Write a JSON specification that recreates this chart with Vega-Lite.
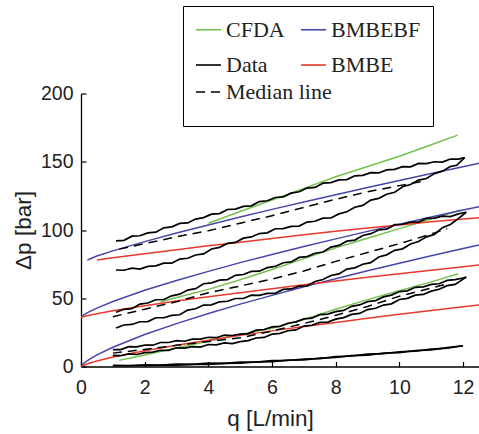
{
  "$schema": "https://vega.github.io/schema/vega-lite/v6.json",
  "width": 398,
  "height": 273,
  "autosize": "none",
  "padding": {"left": 81, "top": 93.5, "right": 0, "bottom": 67.5},
  "background": "white",
  "config": {
    "view": {"stroke": null},
    "axis": {"grid": false, "domainColor": "#000", "domainWidth": 1.3, "tickColor": "#000", "tickWidth": 1.2, "tickSize": -5, "labelFont": "Liberation Sans", "labelFontSize": 19.5, "labelColor": "#222", "titleFont": "Liberation Sans", "titleFontSize": 22.5, "titleFontWeight": "normal", "titleColor": "#222", "labelFlush": false, "labelOverlap": false}
  },
  "datasets": {
    "models": [
      {"s":"CFDA","g":"A","q":4,"p":105},{"s":"CFDA","g":"A","q":5,"p":113.5},{"s":"CFDA","g":"A","q":6,"p":122},{"s":"CFDA","g":"A","q":7,"p":130.5},{"s":"CFDA","g":"A","q":8,"p":139},{"s":"CFDA","g":"A","q":9,"p":146.5},{"s":"CFDA","g":"A","q":10,"p":154},{"s":"CFDA","g":"A","q":11,"p":162.5},{"s":"CFDA","g":"A","q":11.83,"p":169.5},
      {"s":"CFDA","g":"B","q":2.5,"p":47.5},{"s":"CFDA","g":"B","q":3,"p":50.5},{"s":"CFDA","g":"B","q":4,"p":56.5},{"s":"CFDA","g":"B","q":5,"p":63.5},{"s":"CFDA","g":"B","q":6,"p":71},{"s":"CFDA","g":"B","q":7,"p":79},{"s":"CFDA","g":"B","q":8,"p":87},{"s":"CFDA","g":"B","q":9,"p":94},{"s":"CFDA","g":"B","q":10,"p":101},{"s":"CFDA","g":"B","q":11,"p":108},{"s":"CFDA","g":"B","q":11.93,"p":114.6},
      {"s":"CFDA","g":"C","q":1.2,"p":4.5},{"s":"CFDA","g":"C","q":2,"p":8.5},{"s":"CFDA","g":"C","q":3,"p":13.5},{"s":"CFDA","g":"C","q":4,"p":18.5},{"s":"CFDA","g":"C","q":5,"p":23.5},{"s":"CFDA","g":"C","q":6,"p":28},{"s":"CFDA","g":"C","q":7,"p":34.5},{"s":"CFDA","g":"C","q":8,"p":42},{"s":"CFDA","g":"C","q":9,"p":49},{"s":"CFDA","g":"C","q":10,"p":55.5},{"s":"CFDA","g":"C","q":11,"p":62},{"s":"CFDA","g":"C","q":11.85,"p":68},
      {"s":"BMBEBF","g":"A","q":0.2,"p":78},{"s":"BMBEBF","g":"A","q":0.5,"p":80.9},{"s":"BMBEBF","g":"A","q":1,"p":84.7},{"s":"BMBEBF","g":"A","q":2,"p":91.5},{"s":"BMBEBF","g":"A","q":3,"p":97.8},{"s":"BMBEBF","g":"A","q":4,"p":103.7},{"s":"BMBEBF","g":"A","q":5,"p":109.5},{"s":"BMBEBF","g":"A","q":6,"p":115.1},{"s":"BMBEBF","g":"A","q":7,"p":120.5},{"s":"BMBEBF","g":"A","q":8,"p":125.9},{"s":"BMBEBF","g":"A","q":9,"p":131.1},{"s":"BMBEBF","g":"A","q":10,"p":136.3},{"s":"BMBEBF","g":"A","q":11,"p":141.4},{"s":"BMBEBF","g":"A","q":12,"p":146.4},{"s":"BMBEBF","g":"A","q":12.5,"p":148.9},
      {"s":"BMBEBF","g":"B","q":0,"p":36},{"s":"BMBEBF","g":"B","q":0.1,"p":38},{"s":"BMBEBF","g":"B","q":0.25,"p":40},{"s":"BMBEBF","g":"B","q":0.5,"p":42.8},{"s":"BMBEBF","g":"B","q":1,"p":47.6},{"s":"BMBEBF","g":"B","q":2,"p":55.8},{"s":"BMBEBF","g":"B","q":3,"p":63},{"s":"BMBEBF","g":"B","q":4,"p":69.7},{"s":"BMBEBF","g":"B","q":5,"p":76.1},{"s":"BMBEBF","g":"B","q":6,"p":82.1},{"s":"BMBEBF","g":"B","q":7,"p":87.9},{"s":"BMBEBF","g":"B","q":8,"p":93.5},{"s":"BMBEBF","g":"B","q":9,"p":99},{"s":"BMBEBF","g":"B","q":10,"p":104.3},{"s":"BMBEBF","g":"B","q":11,"p":109.5},{"s":"BMBEBF","g":"B","q":12,"p":114.6},{"s":"BMBEBF","g":"B","q":12.5,"p":117.1},
      {"s":"BMBEBF","g":"C","q":0,"p":0},{"s":"BMBEBF","g":"C","q":0.1,"p":2.6},{"s":"BMBEBF","g":"C","q":0.25,"p":5.1},{"s":"BMBEBF","g":"C","q":0.5,"p":8.5},{"s":"BMBEBF","g":"C","q":1,"p":14.1},{"s":"BMBEBF","g":"C","q":2,"p":23.4},{"s":"BMBEBF","g":"C","q":3,"p":31.4},{"s":"BMBEBF","g":"C","q":4,"p":38.8},{"s":"BMBEBF","g":"C","q":5,"p":45.7},{"s":"BMBEBF","g":"C","q":6,"p":52.1},{"s":"BMBEBF","g":"C","q":7,"p":58.4},{"s":"BMBEBF","g":"C","q":8,"p":64.3},{"s":"BMBEBF","g":"C","q":9,"p":70.1},{"s":"BMBEBF","g":"C","q":10,"p":75.7},{"s":"BMBEBF","g":"C","q":11,"p":81.2},{"s":"BMBEBF","g":"C","q":12,"p":86.5},{"s":"BMBEBF","g":"C","q":12.5,"p":89.1},
      {"s":"BMBE","g":"A","q":0.5,"p":78},{"s":"BMBE","g":"A","q":1,"p":79.6},{"s":"BMBE","g":"A","q":2,"p":82.6},{"s":"BMBE","g":"A","q":3,"p":85.5},{"s":"BMBE","g":"A","q":4,"p":88.4},{"s":"BMBE","g":"A","q":5,"p":91.1},{"s":"BMBE","g":"A","q":6,"p":93.8},{"s":"BMBE","g":"A","q":7,"p":96.5},{"s":"BMBE","g":"A","q":8,"p":99},{"s":"BMBE","g":"A","q":9,"p":101.4},{"s":"BMBE","g":"A","q":10,"p":103.7},{"s":"BMBE","g":"A","q":11,"p":106},{"s":"BMBE","g":"A","q":12,"p":108},{"s":"BMBE","g":"A","q":12.5,"p":109},
      {"s":"BMBE","g":"B","q":0,"p":36},{"s":"BMBE","g":"B","q":0.25,"p":37.6},{"s":"BMBE","g":"B","q":0.5,"p":38.7},{"s":"BMBE","g":"B","q":1,"p":40.8},{"s":"BMBE","g":"B","q":2,"p":44.5},{"s":"BMBE","g":"B","q":3,"p":47.9},{"s":"BMBE","g":"B","q":4,"p":51.1},{"s":"BMBE","g":"B","q":5,"p":54.1},{"s":"BMBE","g":"B","q":6,"p":57},{"s":"BMBE","g":"B","q":7,"p":59.9},{"s":"BMBE","g":"B","q":8,"p":62.6},{"s":"BMBE","g":"B","q":9,"p":65.3},{"s":"BMBE","g":"B","q":10,"p":68},{"s":"BMBE","g":"B","q":11,"p":70.6},{"s":"BMBE","g":"B","q":12,"p":73.1},{"s":"BMBE","g":"B","q":12.5,"p":74.4},
      {"s":"BMBE","g":"C","q":0,"p":0},{"s":"BMBE","g":"C","q":0.25,"p":2.4},{"s":"BMBE","g":"C","q":0.5,"p":4.1},{"s":"BMBE","g":"C","q":1,"p":6.9},{"s":"BMBE","g":"C","q":2,"p":11.5},{"s":"BMBE","g":"C","q":3,"p":15.6},{"s":"BMBE","g":"C","q":4,"p":19.3},{"s":"BMBE","g":"C","q":5,"p":22.8},{"s":"BMBE","g":"C","q":6,"p":26.1},{"s":"BMBE","g":"C","q":7,"p":29.3},{"s":"BMBE","g":"C","q":8,"p":32.3},{"s":"BMBE","g":"C","q":9,"p":35.3},{"s":"BMBE","g":"C","q":10,"p":38.2},{"s":"BMBE","g":"C","q":11,"p":41},{"s":"BMBE","g":"C","q":12,"p":43.7},{"s":"BMBE","g":"C","q":12.5,"p":45.1}
    ],
    "meas": [
      {"s":"Data","id":"Au","q":1.1,"p":92},{"s":"Data","id":"Au","q":1.35,"p":92.4},{"s":"Data","id":"Au","q":1.6,"p":95.5},{"s":"Data","id":"Au","q":1.85,"p":95.8},{"s":"Data","id":"Au","q":2.1,"p":97.9},{"s":"Data","id":"Au","q":2.35,"p":98.4},{"s":"Data","id":"Au","q":2.6,"p":101.6},{"s":"Data","id":"Au","q":2.85,"p":102.3},{"s":"Data","id":"Au","q":3.1,"p":104.8},{"s":"Data","id":"Au","q":3.35,"p":105.2},{"s":"Data","id":"Au","q":3.6,"p":108},{"s":"Data","id":"Au","q":3.85,"p":109.1},{"s":"Data","id":"Au","q":4.1,"p":111.6},{"s":"Data","id":"Au","q":4.35,"p":112},{"s":"Data","id":"Au","q":4.6,"p":115},{"s":"Data","id":"Au","q":4.85,"p":115.3},{"s":"Data","id":"Au","q":5.1,"p":117.3},{"s":"Data","id":"Au","q":5.35,"p":117.7},{"s":"Data","id":"Au","q":5.6,"p":120.8},{"s":"Data","id":"Au","q":5.85,"p":121.4},{"s":"Data","id":"Au","q":6.1,"p":123.8},{"s":"Data","id":"Au","q":6.35,"p":124.2},{"s":"Data","id":"Au","q":6.6,"p":127},{"s":"Data","id":"Au","q":6.85,"p":128},{"s":"Data","id":"Au","q":7.1,"p":130.7},{"s":"Data","id":"Au","q":7.35,"p":131.2},{"s":"Data","id":"Au","q":7.6,"p":134.3},{"s":"Data","id":"Au","q":7.85,"p":134.7},{"s":"Data","id":"Au","q":8.1,"p":136.7},{"s":"Data","id":"Au","q":8.35,"p":136.9},{"s":"Data","id":"Au","q":8.6,"p":139.7},{"s":"Data","id":"Au","q":8.85,"p":140},{"s":"Data","id":"Au","q":9.1,"p":142},{"s":"Data","id":"Au","q":9.35,"p":141.8},{"s":"Data","id":"Au","q":9.6,"p":144},{"s":"Data","id":"Au","q":9.85,"p":144.4},{"s":"Data","id":"Au","q":10.1,"p":146.4},{"s":"Data","id":"Au","q":10.35,"p":146.3},{"s":"Data","id":"Au","q":10.6,"p":148.8},{"s":"Data","id":"Au","q":10.85,"p":148.6},{"s":"Data","id":"Au","q":11.1,"p":150},{"s":"Data","id":"Au","q":11.35,"p":149.7},{"s":"Data","id":"Au","q":11.6,"p":152},{"s":"Data","id":"Au","q":11.85,"p":151.9},{"s":"Data","id":"Au","q":12.05,"p":153},
      {"s":"Data","id":"Al","q":1.1,"p":70.7},{"s":"Data","id":"Al","q":1.35,"p":70.5},{"s":"Data","id":"Al","q":1.6,"p":72},{"s":"Data","id":"Al","q":1.85,"p":71.3},{"s":"Data","id":"Al","q":2.1,"p":73.3},{"s":"Data","id":"Al","q":2.35,"p":73.7},{"s":"Data","id":"Al","q":2.6,"p":75.7},{"s":"Data","id":"Al","q":2.85,"p":75.7},{"s":"Data","id":"Al","q":3.1,"p":78.7},{"s":"Data","id":"Al","q":3.35,"p":79.3},{"s":"Data","id":"Al","q":3.6,"p":81.7},{"s":"Data","id":"Al","q":3.85,"p":82.5},{"s":"Data","id":"Al","q":4.1,"p":86.1},{"s":"Data","id":"Al","q":4.35,"p":87.3},{"s":"Data","id":"Al","q":4.6,"p":90.2},{"s":"Data","id":"Al","q":4.85,"p":90.9},{"s":"Data","id":"Al","q":5.1,"p":94},{"s":"Data","id":"Al","q":5.35,"p":94.9},{"s":"Data","id":"Al","q":5.6,"p":97.4},{"s":"Data","id":"Al","q":5.85,"p":97.9},{"s":"Data","id":"Al","q":6.1,"p":100.9},{"s":"Data","id":"Al","q":6.35,"p":101},{"s":"Data","id":"Al","q":6.6,"p":102.7},{"s":"Data","id":"Al","q":6.85,"p":102.9},{"s":"Data","id":"Al","q":7.1,"p":105.8},{"s":"Data","id":"Al","q":7.35,"p":106.4},{"s":"Data","id":"Al","q":7.6,"p":108.7},{"s":"Data","id":"Al","q":7.85,"p":108.8},{"s":"Data","id":"Al","q":8.1,"p":111.8},{"s":"Data","id":"Al","q":8.35,"p":113.4},{"s":"Data","id":"Al","q":8.6,"p":116.7},{"s":"Data","id":"Al","q":8.85,"p":118},{"s":"Data","id":"Al","q":9.1,"p":121.9},{"s":"Data","id":"Al","q":9.35,"p":123.2},{"s":"Data","id":"Al","q":9.6,"p":126.2},{"s":"Data","id":"Al","q":9.85,"p":127.6},{"s":"Data","id":"Al","q":10.1,"p":131.7},{"s":"Data","id":"Al","q":10.35,"p":133.3},{"s":"Data","id":"Al","q":10.6,"p":136.6},{"s":"Data","id":"Al","q":10.85,"p":137.7},{"s":"Data","id":"Al","q":11.1,"p":141.3},{"s":"Data","id":"Al","q":11.35,"p":143.1},{"s":"Data","id":"Al","q":11.6,"p":146.5},{"s":"Data","id":"Al","q":11.8,"p":147.4},{"s":"Data","id":"Al","q":12.05,"p":153},
      {"s":"Data","id":"Bu","q":1.1,"p":39.7},{"s":"Data","id":"Bu","q":1.35,"p":41.9},{"s":"Data","id":"Bu","q":1.6,"p":42.4},{"s":"Data","id":"Bu","q":1.85,"p":45.7},{"s":"Data","id":"Bu","q":2.1,"p":46.5},{"s":"Data","id":"Bu","q":2.35,"p":48.9},{"s":"Data","id":"Bu","q":2.6,"p":49.1},{"s":"Data","id":"Bu","q":2.85,"p":51.8},{"s":"Data","id":"Bu","q":3.1,"p":53},{"s":"Data","id":"Bu","q":3.35,"p":56},{"s":"Data","id":"Bu","q":3.6,"p":57},{"s":"Data","id":"Bu","q":3.85,"p":60.6},{"s":"Data","id":"Bu","q":4.1,"p":61.3},{"s":"Data","id":"Bu","q":4.35,"p":63.3},{"s":"Data","id":"Bu","q":4.6,"p":63.7},{"s":"Data","id":"Bu","q":4.85,"p":66.8},{"s":"Data","id":"Bu","q":5.1,"p":67.4},{"s":"Data","id":"Bu","q":5.35,"p":69.7},{"s":"Data","id":"Bu","q":5.6,"p":69.8},{"s":"Data","id":"Bu","q":5.85,"p":72.4},{"s":"Data","id":"Bu","q":6.1,"p":73.3},{"s":"Data","id":"Bu","q":6.35,"p":76},{"s":"Data","id":"Bu","q":6.6,"p":76.6},{"s":"Data","id":"Bu","q":6.85,"p":79.9},{"s":"Data","id":"Bu","q":7.1,"p":80.5},{"s":"Data","id":"Bu","q":7.35,"p":83},{"s":"Data","id":"Bu","q":7.6,"p":83.9},{"s":"Data","id":"Bu","q":7.85,"p":87.5},{"s":"Data","id":"Bu","q":8.1,"p":88.7},{"s":"Data","id":"Bu","q":8.35,"p":91.8},{"s":"Data","id":"Bu","q":8.6,"p":92.6},{"s":"Data","id":"Bu","q":8.85,"p":96},{"s":"Data","id":"Bu","q":9.1,"p":97.3},{"s":"Data","id":"Bu","q":9.35,"p":100},{"s":"Data","id":"Bu","q":9.6,"p":100.6},{"s":"Data","id":"Bu","q":9.85,"p":103.9},{"s":"Data","id":"Bu","q":10.1,"p":104.2},{"s":"Data","id":"Bu","q":10.35,"p":105.8},{"s":"Data","id":"Bu","q":10.6,"p":105.8},{"s":"Data","id":"Bu","q":10.85,"p":108.5},{"s":"Data","id":"Bu","q":11.1,"p":108.7},{"s":"Data","id":"Bu","q":11.35,"p":110.2},{"s":"Data","id":"Bu","q":11.6,"p":109.8},{"s":"Data","id":"Bu","q":11.85,"p":111.8},{"s":"Data","id":"Bu","q":12.1,"p":113},
      {"s":"Data","id":"Bl","q":1.1,"p":28.2},{"s":"Data","id":"Bl","q":1.35,"p":30.4},{"s":"Data","id":"Bl","q":1.6,"p":30.8},{"s":"Data","id":"Bl","q":1.85,"p":32.8},{"s":"Data","id":"Bl","q":2.1,"p":32.9},{"s":"Data","id":"Bl","q":2.35,"p":35.7},{"s":"Data","id":"Bl","q":2.6,"p":35.7},{"s":"Data","id":"Bl","q":2.85,"p":37.5},{"s":"Data","id":"Bl","q":3.1,"p":37.9},{"s":"Data","id":"Bl","q":3.35,"p":41.3},{"s":"Data","id":"Bl","q":3.6,"p":42.3},{"s":"Data","id":"Bl","q":3.85,"p":45},{"s":"Data","id":"Bl","q":4.1,"p":45.2},{"s":"Data","id":"Bl","q":4.35,"p":47.4},{"s":"Data","id":"Bl","q":4.6,"p":47.8},{"s":"Data","id":"Bl","q":4.85,"p":49.8},{"s":"Data","id":"Bl","q":5.1,"p":49.8},{"s":"Data","id":"Bl","q":5.35,"p":52.3},{"s":"Data","id":"Bl","q":5.6,"p":52.1},{"s":"Data","id":"Bl","q":5.85,"p":53.6},{"s":"Data","id":"Bl","q":6.1,"p":53.6},{"s":"Data","id":"Bl","q":6.35,"p":56.5},{"s":"Data","id":"Bl","q":6.6,"p":56.8},{"s":"Data","id":"Bl","q":6.85,"p":58.9},{"s":"Data","id":"Bl","q":7.1,"p":59.1},{"s":"Data","id":"Bl","q":7.35,"p":62.3},{"s":"Data","id":"Bl","q":7.6,"p":63.7},{"s":"Data","id":"Bl","q":7.85,"p":66.7},{"s":"Data","id":"Bl","q":8.1,"p":67.8},{"s":"Data","id":"Bl","q":8.35,"p":71.4},{"s":"Data","id":"Bl","q":8.6,"p":72.3},{"s":"Data","id":"Bl","q":8.85,"p":74.9},{"s":"Data","id":"Bl","q":9.1,"p":76.1},{"s":"Data","id":"Bl","q":9.35,"p":80.2},{"s":"Data","id":"Bl","q":9.6,"p":81.8},{"s":"Data","id":"Bl","q":9.85,"p":85.1},{"s":"Data","id":"Bl","q":10.1,"p":86.2},{"s":"Data","id":"Bl","q":10.35,"p":89.8},{"s":"Data","id":"Bl","q":10.6,"p":91.6},{"s":"Data","id":"Bl","q":10.85,"p":95},{"s":"Data","id":"Bl","q":11.1,"p":96.8},{"s":"Data","id":"Bl","q":11.35,"p":101.7},{"s":"Data","id":"Bl","q":11.6,"p":104},{"s":"Data","id":"Bl","q":11.85,"p":108.3},{"s":"Data","id":"Bl","q":12.1,"p":113},
      {"s":"Data","id":"Cu","q":1,"p":12.4},{"s":"Data","id":"Cu","q":1.25,"p":12.4},{"s":"Data","id":"Cu","q":1.5,"p":14.5},{"s":"Data","id":"Cu","q":1.75,"p":14.4},{"s":"Data","id":"Cu","q":2,"p":15.7},{"s":"Data","id":"Cu","q":2.25,"p":15.6},{"s":"Data","id":"Cu","q":2.5,"p":17.6},{"s":"Data","id":"Cu","q":2.75,"p":17.6},{"s":"Data","id":"Cu","q":3,"p":19},{"s":"Data","id":"Cu","q":3.25,"p":18.5},{"s":"Data","id":"Cu","q":3.5,"p":20},{"s":"Data","id":"Cu","q":3.75,"p":20.1},{"s":"Data","id":"Cu","q":4,"p":21.4},{"s":"Data","id":"Cu","q":4.25,"p":21.1},{"s":"Data","id":"Cu","q":4.5,"p":23},{"s":"Data","id":"Cu","q":4.75,"p":22.7},{"s":"Data","id":"Cu","q":5,"p":23.7},{"s":"Data","id":"Cu","q":5.25,"p":24.1},{"s":"Data","id":"Cu","q":5.5,"p":26.6},{"s":"Data","id":"Cu","q":5.75,"p":27.1},{"s":"Data","id":"Cu","q":6,"p":29},{"s":"Data","id":"Cu","q":6.25,"p":29.4},{"s":"Data","id":"Cu","q":6.5,"p":31.7},{"s":"Data","id":"Cu","q":6.75,"p":32.7},{"s":"Data","id":"Cu","q":7,"p":34.9},{"s":"Data","id":"Cu","q":7.25,"p":35.4},{"s":"Data","id":"Cu","q":7.5,"p":38},{"s":"Data","id":"Cu","q":7.75,"p":38.4},{"s":"Data","id":"Cu","q":8,"p":40.2},{"s":"Data","id":"Cu","q":8.25,"p":41.1},{"s":"Data","id":"Cu","q":8.5,"p":44.1},{"s":"Data","id":"Cu","q":8.75,"p":45.1},{"s":"Data","id":"Cu","q":9,"p":47.5},{"s":"Data","id":"Cu","q":9.25,"p":48.3},{"s":"Data","id":"Cu","q":9.5,"p":51},{"s":"Data","id":"Cu","q":9.75,"p":52.3},{"s":"Data","id":"Cu","q":10,"p":54.9},{"s":"Data","id":"Cu","q":10.25,"p":55.4},{"s":"Data","id":"Cu","q":10.5,"p":58},{"s":"Data","id":"Cu","q":10.75,"p":58.4},{"s":"Data","id":"Cu","q":11,"p":60.2},{"s":"Data","id":"Cu","q":11.25,"p":60.6},{"s":"Data","id":"Cu","q":11.5,"p":63.1},{"s":"Data","id":"Cu","q":11.75,"p":63.6},{"s":"Data","id":"Cu","q":12,"p":64.8},{"s":"Data","id":"Cu","q":12.1,"p":65.5},
      {"s":"Data","id":"Cl","q":1,"p":8.1},{"s":"Data","id":"Cl","q":1.25,"p":7.9},{"s":"Data","id":"Cl","q":1.5,"p":9.3},{"s":"Data","id":"Cl","q":1.75,"p":8.8},{"s":"Data","id":"Cl","q":2,"p":10.2},{"s":"Data","id":"Cl","q":2.25,"p":10.5},{"s":"Data","id":"Cl","q":2.5,"p":11.9},{"s":"Data","id":"Cl","q":2.75,"p":11.8},{"s":"Data","id":"Cl","q":3,"p":13.7},{"s":"Data","id":"Cl","q":3.25,"p":13.4},{"s":"Data","id":"Cl","q":3.5,"p":14.5},{"s":"Data","id":"Cl","q":3.75,"p":14.2},{"s":"Data","id":"Cl","q":4,"p":16.1},{"s":"Data","id":"Cl","q":4.25,"p":15.9},{"s":"Data","id":"Cl","q":4.5,"p":17.3},{"s":"Data","id":"Cl","q":4.75,"p":16.8},{"s":"Data","id":"Cl","q":5,"p":18.2},{"s":"Data","id":"Cl","q":5.25,"p":19},{"s":"Data","id":"Cl","q":5.5,"p":20.9},{"s":"Data","id":"Cl","q":5.75,"p":21.3},{"s":"Data","id":"Cl","q":6,"p":23.7},{"s":"Data","id":"Cl","q":6.25,"p":24.3},{"s":"Data","id":"Cl","q":6.5,"p":26.2},{"s":"Data","id":"Cl","q":6.75,"p":26.8},{"s":"Data","id":"Cl","q":7,"p":29.6},{"s":"Data","id":"Cl","q":7.25,"p":30.2},{"s":"Data","id":"Cl","q":7.5,"p":32.3},{"s":"Data","id":"Cl","q":7.75,"p":32.5},{"s":"Data","id":"Cl","q":8,"p":34.7},{"s":"Data","id":"Cl","q":8.25,"p":35.8},{"s":"Data","id":"Cl","q":8.5,"p":38.2},{"s":"Data","id":"Cl","q":8.75,"p":38.9},{"s":"Data","id":"Cl","q":9,"p":41.7},{"s":"Data","id":"Cl","q":9.25,"p":42.7},{"s":"Data","id":"Cl","q":9.5,"p":45},{"s":"Data","id":"Cl","q":9.75,"p":45.9},{"s":"Data","id":"Cl","q":10,"p":49.1},{"s":"Data","id":"Cl","q":10.25,"p":49.9},{"s":"Data","id":"Cl","q":10.5,"p":52.3},{"s":"Data","id":"Cl","q":10.75,"p":52.8},{"s":"Data","id":"Cl","q":11,"p":55.2},{"s":"Data","id":"Cl","q":11.25,"p":56.6},{"s":"Data","id":"Cl","q":11.5,"p":59.2},{"s":"Data","id":"Cl","q":11.75,"p":60.1},{"s":"Data","id":"Cl","q":12,"p":64},{"s":"Data","id":"Cl","q":12.1,"p":65.5},
      {"s":"Data","id":"Du","q":1,"p":0.9},{"s":"Data","id":"Du","q":1.5,"p":0.6},{"s":"Data","id":"Du","q":2,"p":1.3},{"s":"Data","id":"Du","q":2.5,"p":1},{"s":"Data","id":"Du","q":3,"p":1.8},{"s":"Data","id":"Du","q":3.5,"p":1.6},{"s":"Data","id":"Du","q":4,"p":2.4},{"s":"Data","id":"Du","q":4.5,"p":2.3},{"s":"Data","id":"Du","q":5,"p":3.2},{"s":"Data","id":"Du","q":5.5,"p":3.2},{"s":"Data","id":"Du","q":6,"p":4.3},{"s":"Data","id":"Du","q":6.5,"p":4.4},{"s":"Data","id":"Du","q":7,"p":5.5},{"s":"Data","id":"Du","q":7.5,"p":5.8},{"s":"Data","id":"Du","q":8,"p":7.3},{"s":"Data","id":"Du","q":8.5,"p":7.7},{"s":"Data","id":"Du","q":9,"p":9},{"s":"Data","id":"Du","q":9.5,"p":9.4},{"s":"Data","id":"Du","q":10,"p":10.8},{"s":"Data","id":"Du","q":10.5,"p":11.3},{"s":"Data","id":"Du","q":11,"p":12.8},{"s":"Data","id":"Du","q":11.5,"p":13.4},{"s":"Data","id":"Du","q":12,"p":15.2},
      {"s":"Data","id":"Dl","q":1,"p":0.2},{"s":"Data","id":"Dl","q":1.5,"p":0.4},{"s":"Data","id":"Dl","q":2,"p":0.5},{"s":"Data","id":"Dl","q":2.5,"p":0.9},{"s":"Data","id":"Dl","q":3,"p":1},{"s":"Data","id":"Dl","q":3.5,"p":1.5},{"s":"Data","id":"Dl","q":4,"p":1.6},{"s":"Data","id":"Dl","q":4.5,"p":2.3},{"s":"Data","id":"Dl","q":5,"p":2.5},{"s":"Data","id":"Dl","q":5.5,"p":3.3},{"s":"Data","id":"Dl","q":6,"p":3.6},{"s":"Data","id":"Dl","q":6.5,"p":4.6},{"s":"Data","id":"Dl","q":7,"p":4.8},{"s":"Data","id":"Dl","q":7.5,"p":6.1},{"s":"Data","id":"Dl","q":8,"p":6.6},{"s":"Data","id":"Dl","q":8.5,"p":8},{"s":"Data","id":"Dl","q":9,"p":8.3},{"s":"Data","id":"Dl","q":9.5,"p":9.8},{"s":"Data","id":"Dl","q":10,"p":10.1},{"s":"Data","id":"Dl","q":10.5,"p":11.7},{"s":"Data","id":"Dl","q":11,"p":12.1},{"s":"Data","id":"Dl","q":11.5,"p":13.8},{"s":"Data","id":"Dl","q":12,"p":15.2}
    ],
    "medians": [
      {"m":"Median line","g":"A","q":1.2,"p":86},{"m":"Median line","g":"A","q":2,"p":90},{"m":"Median line","g":"A","q":3,"p":95},{"m":"Median line","g":"A","q":4,"p":99.5},{"m":"Median line","g":"A","q":5,"p":105},{"m":"Median line","g":"A","q":6,"p":110.5},{"m":"Median line","g":"A","q":7,"p":116.5},{"m":"Median line","g":"A","q":8,"p":122.5},{"m":"Median line","g":"A","q":9,"p":128},{"m":"Median line","g":"A","q":10,"p":132.5},{"m":"Median line","g":"A","q":10.7,"p":135.5},
      {"m":"Median line","g":"B","q":1,"p":36.5},{"m":"Median line","g":"B","q":2,"p":42},{"m":"Median line","g":"B","q":3,"p":47.5},{"m":"Median line","g":"B","q":4,"p":54},{"m":"Median line","g":"B","q":5,"p":59},{"m":"Median line","g":"B","q":6,"p":64},{"m":"Median line","g":"B","q":7,"p":70},{"m":"Median line","g":"B","q":8,"p":77},{"m":"Median line","g":"B","q":9,"p":83.5},{"m":"Median line","g":"B","q":10,"p":90},{"m":"Median line","g":"B","q":11,"p":97},{"m":"Median line","g":"B","q":11.5,"p":101},
      {"m":"Median line","g":"C","q":1,"p":9.8},{"m":"Median line","g":"C","q":2,"p":12.5},{"m":"Median line","g":"C","q":3,"p":15.5},{"m":"Median line","g":"C","q":4,"p":18.3},{"m":"Median line","g":"C","q":5,"p":21},{"m":"Median line","g":"C","q":6,"p":26},{"m":"Median line","g":"C","q":7,"p":31.5},{"m":"Median line","g":"C","q":8,"p":37.5},{"m":"Median line","g":"C","q":9,"p":44},{"m":"Median line","g":"C","q":10,"p":51.5},{"m":"Median line","g":"C","q":11,"p":57.5},{"m":"Median line","g":"C","q":11.5,"p":60.5}
    ]
  },
  "encoding": {
    "x": {"field": "q", "type": "quantitative", "scale": {"domain": [0, 12.5], "nice": false, "zero": false}, "axis": {"title": "q [L/min]", "values": [0, 2, 4, 6, 8, 10, 12], "labelPadding": 17, "titleX": 189, "titleY": 59, "titleBaseline": "alphabetic", "titleAlign": "center"}},
    "y": {"field": "p", "type": "quantitative", "scale": {"domain": [0, 200], "nice": false}, "axis": {"title": "Δp [bar]", "values": [0, 50, 100, 150, 200], "labelPadding": 13, "titleX": -58, "titleBaseline": "middle", "titleAlign": "center"}}
  },
  "layer": [
    {
      "data": {"name": "models"},
      "mark": {"type": "line", "strokeWidth": 1.5, "clip": true},
      "encoding": {
        "detail": {"field": "g"},
        "color": {"field": "s", "type": "nominal", "scale": {"domain": ["CFDA", "BMBEBF", "Data", "BMBE"], "range": ["#74c14e", "#4646aa", "#000000", "#e8392c"]},
          "legend": {"orient": "none", "legendX": 102, "legendY": -87.5, "columns": 2, "direction": "horizontal", "columnPadding": 12, "rowPadding": 10.5, "padding": 10, "strokeColor": "#000", "fillColor": null, "symbolType": "stroke", "symbolSize": 625, "symbolOffset": 2, "symbolStrokeWidth": 1.6, "labelFont": "Liberation Serif", "labelFontSize": 22, "labelColor": "#222", "labelOffset": 4, "title": "\u00a0\u00a0", "titleOrient": "right", "titleFontSize": 101, "titlePadding": 3, "titleBaseline": "top", "titleAnchor": "start"}}
      }
    },
    {
      "data": {"name": "meas"},
      "mark": {"type": "line", "strokeWidth": 1.7, "clip": true},
      "encoding": {
        "detail": {"field": "id"},
        "color": {"field": "s", "type": "nominal"}
      }
    },
    {
      "data": {"name": "medians"},
      "mark": {"type": "line", "strokeWidth": 1.5, "color": "#000", "clip": true},
      "encoding": {
        "detail": {"field": "g"},
        "strokeDash": {"field": "m", "type": "nominal", "scale": {"domain": ["Median line"], "range": [[9, 6]]},
          "legend": {"orient": "none", "legendX": 114, "legendY": -15, "padding": 0, "title": null, "symbolType": "stroke", "symbolSize": 625, "symbolStrokeWidth": 1.6, "symbolStrokeColor": "#000", "labelFont": "Liberation Serif", "labelFontSize": 22, "labelColor": "#222", "labelOffset": 4}}
      }
    }
  ]
}
